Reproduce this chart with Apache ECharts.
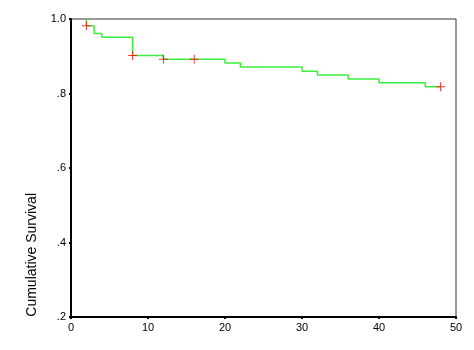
<!DOCTYPE html>
<html><head><meta charset="utf-8">
<script src="https://cdn.jsdelivr.net/npm/echarts@6/dist/echarts.min.js"></script>
<style>html,body{margin:0;padding:0;background:#fff}#c{width:474px;height:350px}</style>
</head><body><div id="c"></div>
<script>
var times = [2, 2, 3, 4, 8, 12, 20, 22, 30, 32, 36, 40, 46, 48];
var survival = [1.0, 0.982, 0.961, 0.951, 0.902, 0.892, 0.882, 0.871, 0.860, 0.850, 0.839, 0.829, 0.818, 0.818];
var censorTimes = [2, 8, 12, 16, 48];
var censorSurvival = [0.982, 0.902, 0.892, 0.892, 0.818];
var yTicks = [0.2, 0.4, 0.6, 0.8, 1.0];
var xTicks = [0, 10, 20, 30, 40, 50];
var yTitle = 'Cumulative Survival';

var chart = echarts.init(document.getElementById('c'));
var font = '"Liberation Sans", Arial, sans-serif';
chart.setOption({
  animation: false,
  grid: {left: 71, right: 18, top: 19, bottom: 33, show: true, borderColor: '#333', borderWidth: 1},
  xAxis: {
    type: 'value', min: xTicks[0], max: xTicks[xTicks.length-1], interval: 10,
    axisLine: {show: true, lineStyle: {color: '#000', width: 2}},
    axisTick: {show: true, length: 2, lineStyle: {color: '#000', width: 2}},
    axisLabel: {color: '#000', fontSize: 11, fontFamily: font, margin: 5},
    splitLine: {show: false}
  },
  yAxis: {
    type: 'value', min: yTicks[0], max: yTicks[yTicks.length-1], interval: 0.2,
    axisLine: {show: true, lineStyle: {color: '#000', width: 2}},
    axisTick: {show: true, length: 2, lineStyle: {color: '#000', width: 2}},
    axisLabel: {color: '#000', fontSize: 11, fontFamily: font, margin: 5,
      formatter: function (v) { return Math.abs(v - 1) < 1e-9 ? '1.0' : ('.' + Math.round(v * 10)); }},
    splitLine: {show: false}
  },
  graphic: [{
    type: 'text', left: 25, top: 193, rotation: Math.PI / 2,
    style: {text: yTitle, fill: '#000', font: '14px ' + font}
  }],
  series: [{
    type: 'line', step: 'end', showSymbol: false,
    data: times.map(function (t, i) { return [t, survival[i]]; }),
    lineStyle: {color: '#3dee3d', width: 1.5}, z: 2
  }, {
    type: 'scatter',
    symbol: 'path://M4,0h1v4h4v1h-4v4h-1v-4h-4v-1h4z',
    symbolSize: 9,
    itemStyle: {color: '#ff0000'},
    data: censorTimes.map(function (t, i) { return [t, censorSurvival[i]]; }),
    z: 3
  }]
});
</script></body></html>
